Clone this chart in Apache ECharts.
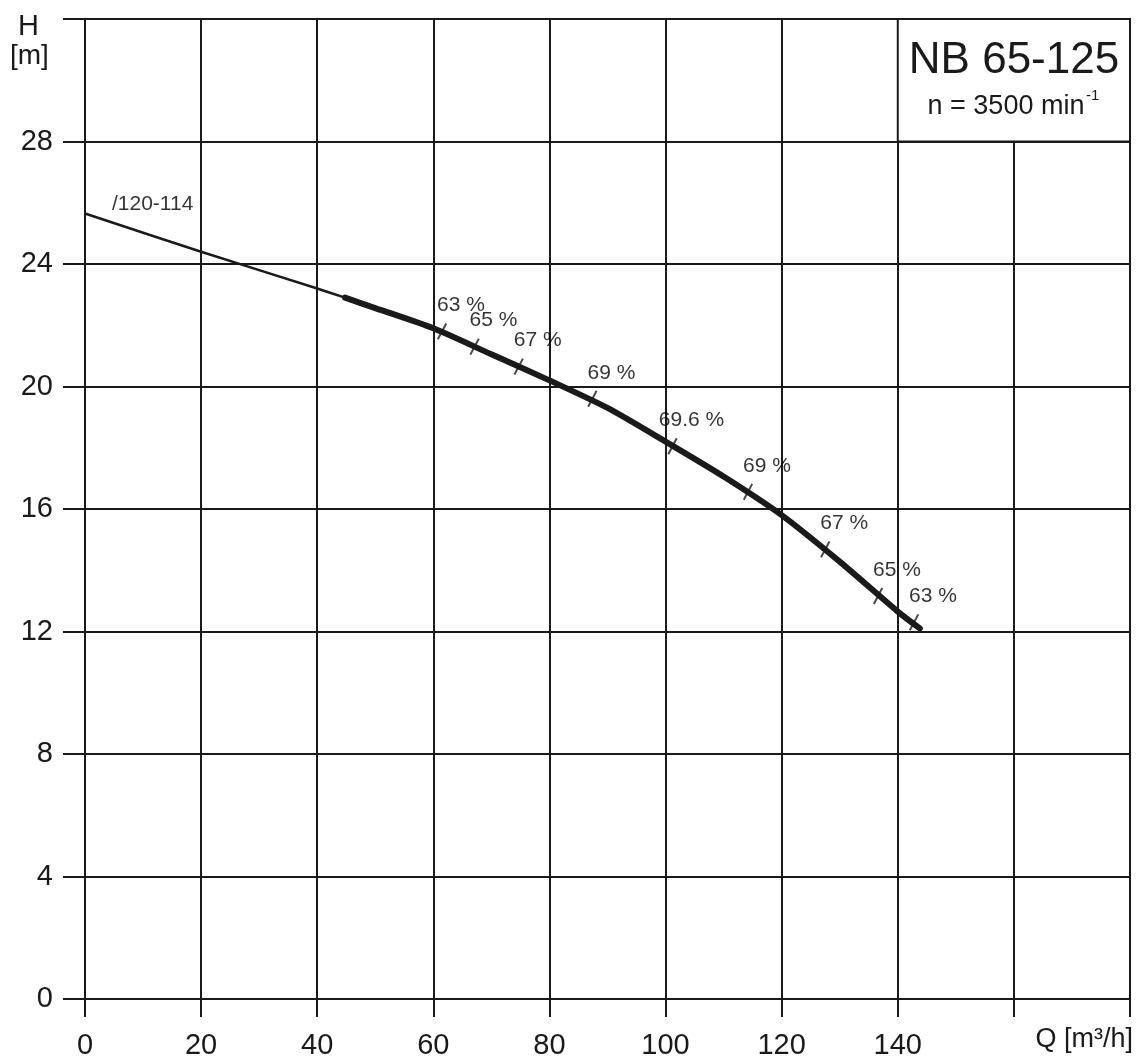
<!DOCTYPE html>
<html>
<head>
<meta charset="utf-8">
<script src="https://cdn.jsdelivr.net/npm/echarts@6/dist/echarts.min.js"></script>
<style>
html,body{margin:0;padding:0;background:#fff;}
#c{width:1137px;height:1064px;}
</style>
</head>
<body>
<div id="c"></div>
<script>
// ---- data ----
const xMin = 0, xMax = 180, xStep = 20;
const yMin = 0, yMax = 32, yStep = 4;
const xTickLabels = ['0', '20', '40', '60', '80', '100', '120', '140'];
const yTickLabels = ['0', '4', '8', '12', '16', '20', '24', '28'];

// thin part of the Q-H curve (impeller /120-114)
const thinQ = [0, 20, 40, 44.8];
const thinH = [25.65, 24.4, 23.2, 22.9];
const curveName = '/120-114';

// thick (operating) part of the Q-H curve
const thickQ = [44.8, 50, 60, 70, 80, 90, 100, 110, 120, 130, 140, 143.8];
const thickH = [22.9, 22.56, 21.9, 21.05, 20.2, 19.3, 18.2, 17.06, 15.8, 14.28, 12.65, 12.1];

// efficiency marks on the curve
const effQ = [61.5, 67.1, 74.7, 87.4, 101.2, 114.2, 127.5, 136.6, 142.8];
const effH = [21.8, 21.3, 20.65, 19.6, 18.05, 16.56, 14.68, 13.16, 12.3];
const effLabels = ['63 %', '65 %', '67 %', '69 %', '69.6 %', '69 %', '67 %', '65 %', '63 %'];

// title box (cells it covers)
const boxQ = [140, 180];
const boxH = [28, 32];
const titleText = 'NB 65-125';
const speedText = 'n = 3500 min';
const speedSup = '-1';
const yName = ['H', '[m]'];
const xName = 'Q [m³/h]';

// ---- chart ----
const INK = '#1a1a1a';
const FONT = '"Liberation Sans", Arial, Helvetica, sans-serif';
const chart = echarts.init(document.getElementById('c'), null, {renderer: 'canvas'});

const option = {
  backgroundColor: '#fff',
  animation: false,
  grid: {left: 85, right: 7, top: 19, bottom: 65, containLabel: false},
  xAxis: {
    type: 'value', min: xMin, max: xMax, interval: xStep,
    axisLine: {show: true, lineStyle: {color: INK, width: 2}},
    axisTick: {show: true, length: 18, lineStyle: {color: INK, width: 2}},
    splitLine: {show: true, lineStyle: {color: INK, width: 2}},
    axisLabel: {
      margin: 32, fontSize: 29, color: INK, fontFamily: FONT,
      formatter: v => { const i = Math.round((v - xMin) / xStep); return xTickLabels[i] !== undefined ? xTickLabels[i] : ''; }
    }
  },
  yAxis: {
    type: 'value', min: yMin, max: yMax, interval: yStep,
    axisLine: {show: true, lineStyle: {color: INK, width: 2}},
    axisTick: {show: true, length: 22, lineStyle: {color: INK, width: 2}},
    splitLine: {show: true, lineStyle: {color: INK, width: 2}},
    axisLabel: {
      margin: 32, fontSize: 29, color: INK, fontFamily: FONT,
      formatter: v => { const i = Math.round((v - yMin) / yStep); return yTickLabels[i] !== undefined ? yTickLabels[i] : ''; }
    }
  },
  series: [
    {
      type: 'line', name: 'thin', data: thinQ.map((q, i) => [q, thinH[i]]), smooth: 0.25,
      showSymbol: false, symbol: 'none',
      lineStyle: {color: INK, width: 2.5}, z: 3
    },
    {
      type: 'scatter', name: 'curveName', data: [[thinQ[0], thinH[0]]], symbolSize: 0, z: 5,
      label: {show: true, formatter: curveName, position: 'right', offset: [22, -9], fontSize: 21, color: '#000', fontFamily: FONT}
    },
    {
      type: 'line', name: 'thick', data: thickQ.map((q, i) => [q, thickH[i]]), smooth: 0.25,
      showSymbol: false, symbol: 'none',
      lineStyle: {color: INK, width: 6, cap: 'round'}, z: 4,
      markArea: {
        silent: true,
        itemStyle: {color: '#fff', borderColor: INK, borderWidth: 2},
        data: [[{coord: [boxQ[0], boxH[1]]}, {coord: [boxQ[1], boxH[0]]}]]
      }
    },
    {
      type: 'scatter', name: 'eff', data: effQ.map((q, i) => [q, effH[i]]),
      symbol: 'rect', symbolSize: [2, 18], symbolRotate: -28,
      itemStyle: {color: INK}, z: 5,
      label: {
        show: true, position: 'inside', offset: [19, -26],
        formatter: p => effLabels[p.dataIndex],
        fontSize: 21, color: '#000', fontFamily: FONT
      }
    }
  ],
  graphic: [
    {type: 'text', z: 100, left: 18, top: 12, style: {text: yName[0], fontSize: 29, fill: INK, fontFamily: FONT}},
    {type: 'text', z: 100, left: 10, top: 42, style: {text: yName[1], fontSize: 28, fill: INK, fontFamily: FONT}},
    {type: 'text', z: 100, right: 4, top: 1026, style: {text: xName, fontSize: 27, fill: INK, fontFamily: FONT}},
    {type: 'text', z: 100, x: 1014, y: 61, style: {text: titleText, fontSize: 44, fill: INK, fontFamily: FONT, align: 'center', verticalAlign: 'middle'}},
    {type: 'text', z: 100, x: 1006, y: 107, style: {text: speedText, fontSize: 27, fill: INK, fontFamily: FONT, align: 'center', verticalAlign: 'middle'}},
    {type: 'text', z: 100, x: 1086, y: 96, style: {text: speedSup, fontSize: 15, fill: INK, fontFamily: FONT, align: 'left', verticalAlign: 'middle'}}
  ]
};
chart.setOption(option);
</script>
</body>
</html>
